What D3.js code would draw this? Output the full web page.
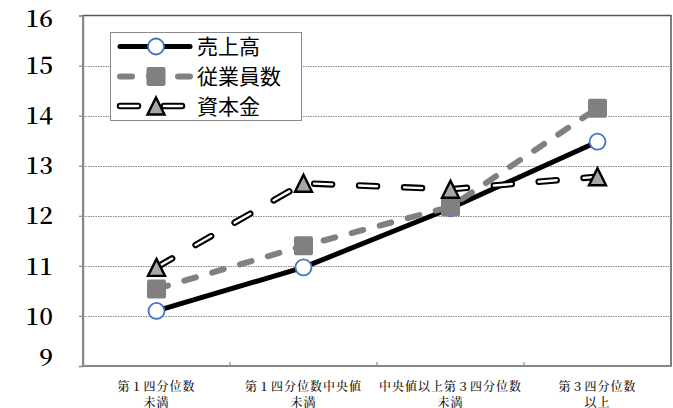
<!DOCTYPE html>
<html>
<head>
<meta charset="utf-8">
<script src="https://cdn.jsdelivr.net/npm/d3@7/dist/d3.min.js"></script>
<style>
  html, body { margin: 0; padding: 0; background: #fff; }
  svg { display: block; }
</style>
</head>
<body>
<div id="chart"></div>
<script>
// Categories (quartile groups) and series values
const categories = [
  ["第１四分位数", "未満"],
  ["第１四分位数中央値", "未満"],
  ["中央値以上第３四分位数", "未満"],
  ["第３四分位数", "以上"]
];
const seriesNames = ["売上高", "従業員数", "資本金"];
const sales     = [10.10, 10.97, 12.15, 13.48];
const employees = [10.54, 11.40, 12.18, 14.15];
const capital   = [10.97, 12.65, 12.53, 12.78];
const yTicks = [9, 10, 11, 12, 13, 14, 15, 16];

const W = 673, H = 408;
const margin = { left: 83, right: 2, top: 15.5, bottom: 42 };
const serifFont = "'Noto Serif CJK JP', 'Liberation Serif', serif";
const sansFont = "'Noto Sans CJK JP', sans-serif";

const svg = d3.select("#chart").append("svg")
  .attr("width", W).attr("height", H);

const x = d3.scaleBand()
  .domain(d3.range(categories.length))
  .range([margin.left, W - margin.right])
  .paddingInner(0).paddingOuter(0);
const y = d3.scaleLinear()
  .domain([9, 16])
  .range([H - margin.bottom, margin.top]);
const cx = i => x(i) + x.bandwidth() / 2;

// Plot area frame
svg.append("rect")
  .attr("x", x.range()[0]).attr("y", y(16))
  .attr("width", x.range()[1] - x.range()[0])
  .attr("height", y(9) - y(16))
  .attr("fill", "none").attr("stroke", "#555").attr("stroke-width", 1.5);

// Dotted horizontal gridlines
svg.append("g").selectAll("line")
  .data(yTicks.filter(v => v > 9 && v < 16))
  .join("line")
  .attr("x1", x.range()[0]).attr("x2", x.range()[1])
  .attr("y1", d => Math.round(y(d)) + 0.5).attr("y2", d => Math.round(y(d)) + 0.5)
  .attr("stroke", "#888").attr("stroke-width", 1.2)
  .attr("stroke-dasharray", "1.5 1");

// Y axis
const yAxis = svg.append("g")
  .attr("transform", `translate(${x.range()[0]},0)`)
  .call(d3.axisLeft(y).tickValues(yTicks).tickSize(4).tickFormat(d3.format("d")));
yAxis.attr("font-family", serifFont).attr("font-size", 24).attr("font-weight", 600);
yAxis.select(".domain").attr("stroke", "#8a8a8a").attr("stroke-width", 1.5);
yAxis.selectAll(".tick line").attr("stroke", "#8a8a8a").attr("stroke-width", 1.2);
yAxis.selectAll(".tick text")
  .attr("x", -30)
  .attr("dy", d => d === 16 ? "0.47em" : d === 9 ? "-0.02em" : "0.34em")
  .attr("fill", "#000");

// X axis baseline with inward category dividers
const yb = y(9);
svg.append("line")
  .attr("x1", x.range()[0]).attr("x2", x.range()[1])
  .attr("y1", yb).attr("y2", yb)
  .attr("stroke", "#8a8a8a").attr("stroke-width", 1.5);
svg.append("g").selectAll("line")
  .data(d3.range(1, categories.length))
  .join("line")
  .attr("x1", d => x(d)).attr("x2", d => x(d))
  .attr("y1", yb).attr("y2", yb - 4)
  .attr("stroke", "#8a8a8a").attr("stroke-width", 1.2);

// Category labels (two lines each)
const xl = svg.append("g")
  .attr("font-family", serifFont)
  .attr("font-size", 12)
  .attr("font-weight", 500)
  .attr("fill", "#111")
  .attr("text-anchor", "middle");
categories.forEach((lines, i) => {
  lines.forEach((t, j) => {
    xl.append("text")
      .attr("x", cx(i))
      .attr("y", yb + 25 + j * 15.5)
      .attr("letter-spacing", 1)
      .text(t);
  });
});

const line = d3.line().x((d, i) => cx(i)).y(d => y(d));

// 売上高: solid black with open blue circles
svg.append("path").attr("d", line(sales))
  .attr("fill", "none").attr("stroke", "#000").attr("stroke-width", 5)
  .attr("stroke-linejoin", "round");

// 従業員数: gray dashed with gray squares
svg.append("path").attr("d", line(employees))
  .attr("fill", "none").attr("stroke", "#808080").attr("stroke-width", 6)
  .attr("stroke-linecap", "round").attr("stroke-dasharray", "12 17");

// 資本金: outlined white dashes with gray triangles
svg.append("path").attr("d", line(capital))
  .attr("fill", "none").attr("stroke", "#000").attr("stroke-width", 6.5)
  .attr("stroke-linecap", "round").attr("stroke-dasharray", "18 27");
svg.append("path").attr("d", line(capital))
  .attr("fill", "none").attr("stroke", "#fff").attr("stroke-width", 2.4)
  .attr("stroke-linecap", "round").attr("stroke-dasharray", "18 27");

function circleMarker(g, px, py) {
  g.append("circle").attr("cx", px).attr("cy", py).attr("r", 8)
    .attr("fill", "#fff").attr("stroke", "#4472C4").attr("stroke-width", 1.8);
}
function squareMarker(g, px, py) {
  g.append("rect").attr("x", px - 9.5).attr("y", py - 9.5)
    .attr("width", 19).attr("height", 19).attr("rx", 2)
    .attr("fill", "#808080");
}
function triMarker(g, px, py) {
  const s = 8.5;
  g.append("path")
    .attr("d", `M${px},${py - s}L${px + s},${py + s}L${px - s},${py + s}Z`)
    .attr("fill", "#a6a6a6").attr("stroke", "#000").attr("stroke-width", 2.4)
    .attr("stroke-linejoin", "miter");
}

const marks = svg.append("g");
sales.forEach((v, i) => circleMarker(marks, cx(i), y(v)));
employees.forEach((v, i) => squareMarker(marks, cx(i), y(v)));
capital.forEach((v, i) => triMarker(marks, cx(i), y(v)));

// Legend
const lg = svg.append("g");
lg.append("rect").attr("x", 110.5).attr("y", 32.5).attr("width", 191).attr("height", 88)
  .attr("fill", "#fff").attr("stroke", "#8a8a8a").attr("stroke-width", 1);
const rowY = [46.5, 76.5, 106];
const lx0 = 120, lx1 = 190, lmx = 156;
// row 1
lg.append("line").attr("x1", lx0).attr("x2", lx1).attr("y1", rowY[0]).attr("y2", rowY[0])
  .attr("stroke", "#000").attr("stroke-width", 5).attr("stroke-linecap", "round");
circleMarker(lg, lmx, rowY[0]);
// row 2
lg.append("line").attr("x1", lx0).attr("x2", lx1).attr("y1", rowY[1]).attr("y2", rowY[1])
  .attr("stroke", "#808080").attr("stroke-width", 6).attr("stroke-linecap", "round")
  .attr("stroke-dasharray", "12 17");
squareMarker(lg, lmx, rowY[1]);
// row 3
[["#000", 6.5], ["#fff", 2.4]].forEach(([c, w]) => {
  lg.append("line").attr("x1", lx0).attr("x2", lx1).attr("y1", rowY[2]).attr("y2", rowY[2])
    .attr("stroke", c).attr("stroke-width", w).attr("stroke-linecap", "round")
    .attr("stroke-dasharray", "18 26");
});
triMarker(lg, lmx, rowY[2]);
seriesNames.forEach((n, i) => {
  lg.append("text").attr("x", 197).attr("y", rowY[i]).attr("dy", "0.36em")
    .attr("font-family", sansFont)
    .attr("font-size", 21).attr("fill", "#000").text(n);
});
</script>
</body>
</html>
